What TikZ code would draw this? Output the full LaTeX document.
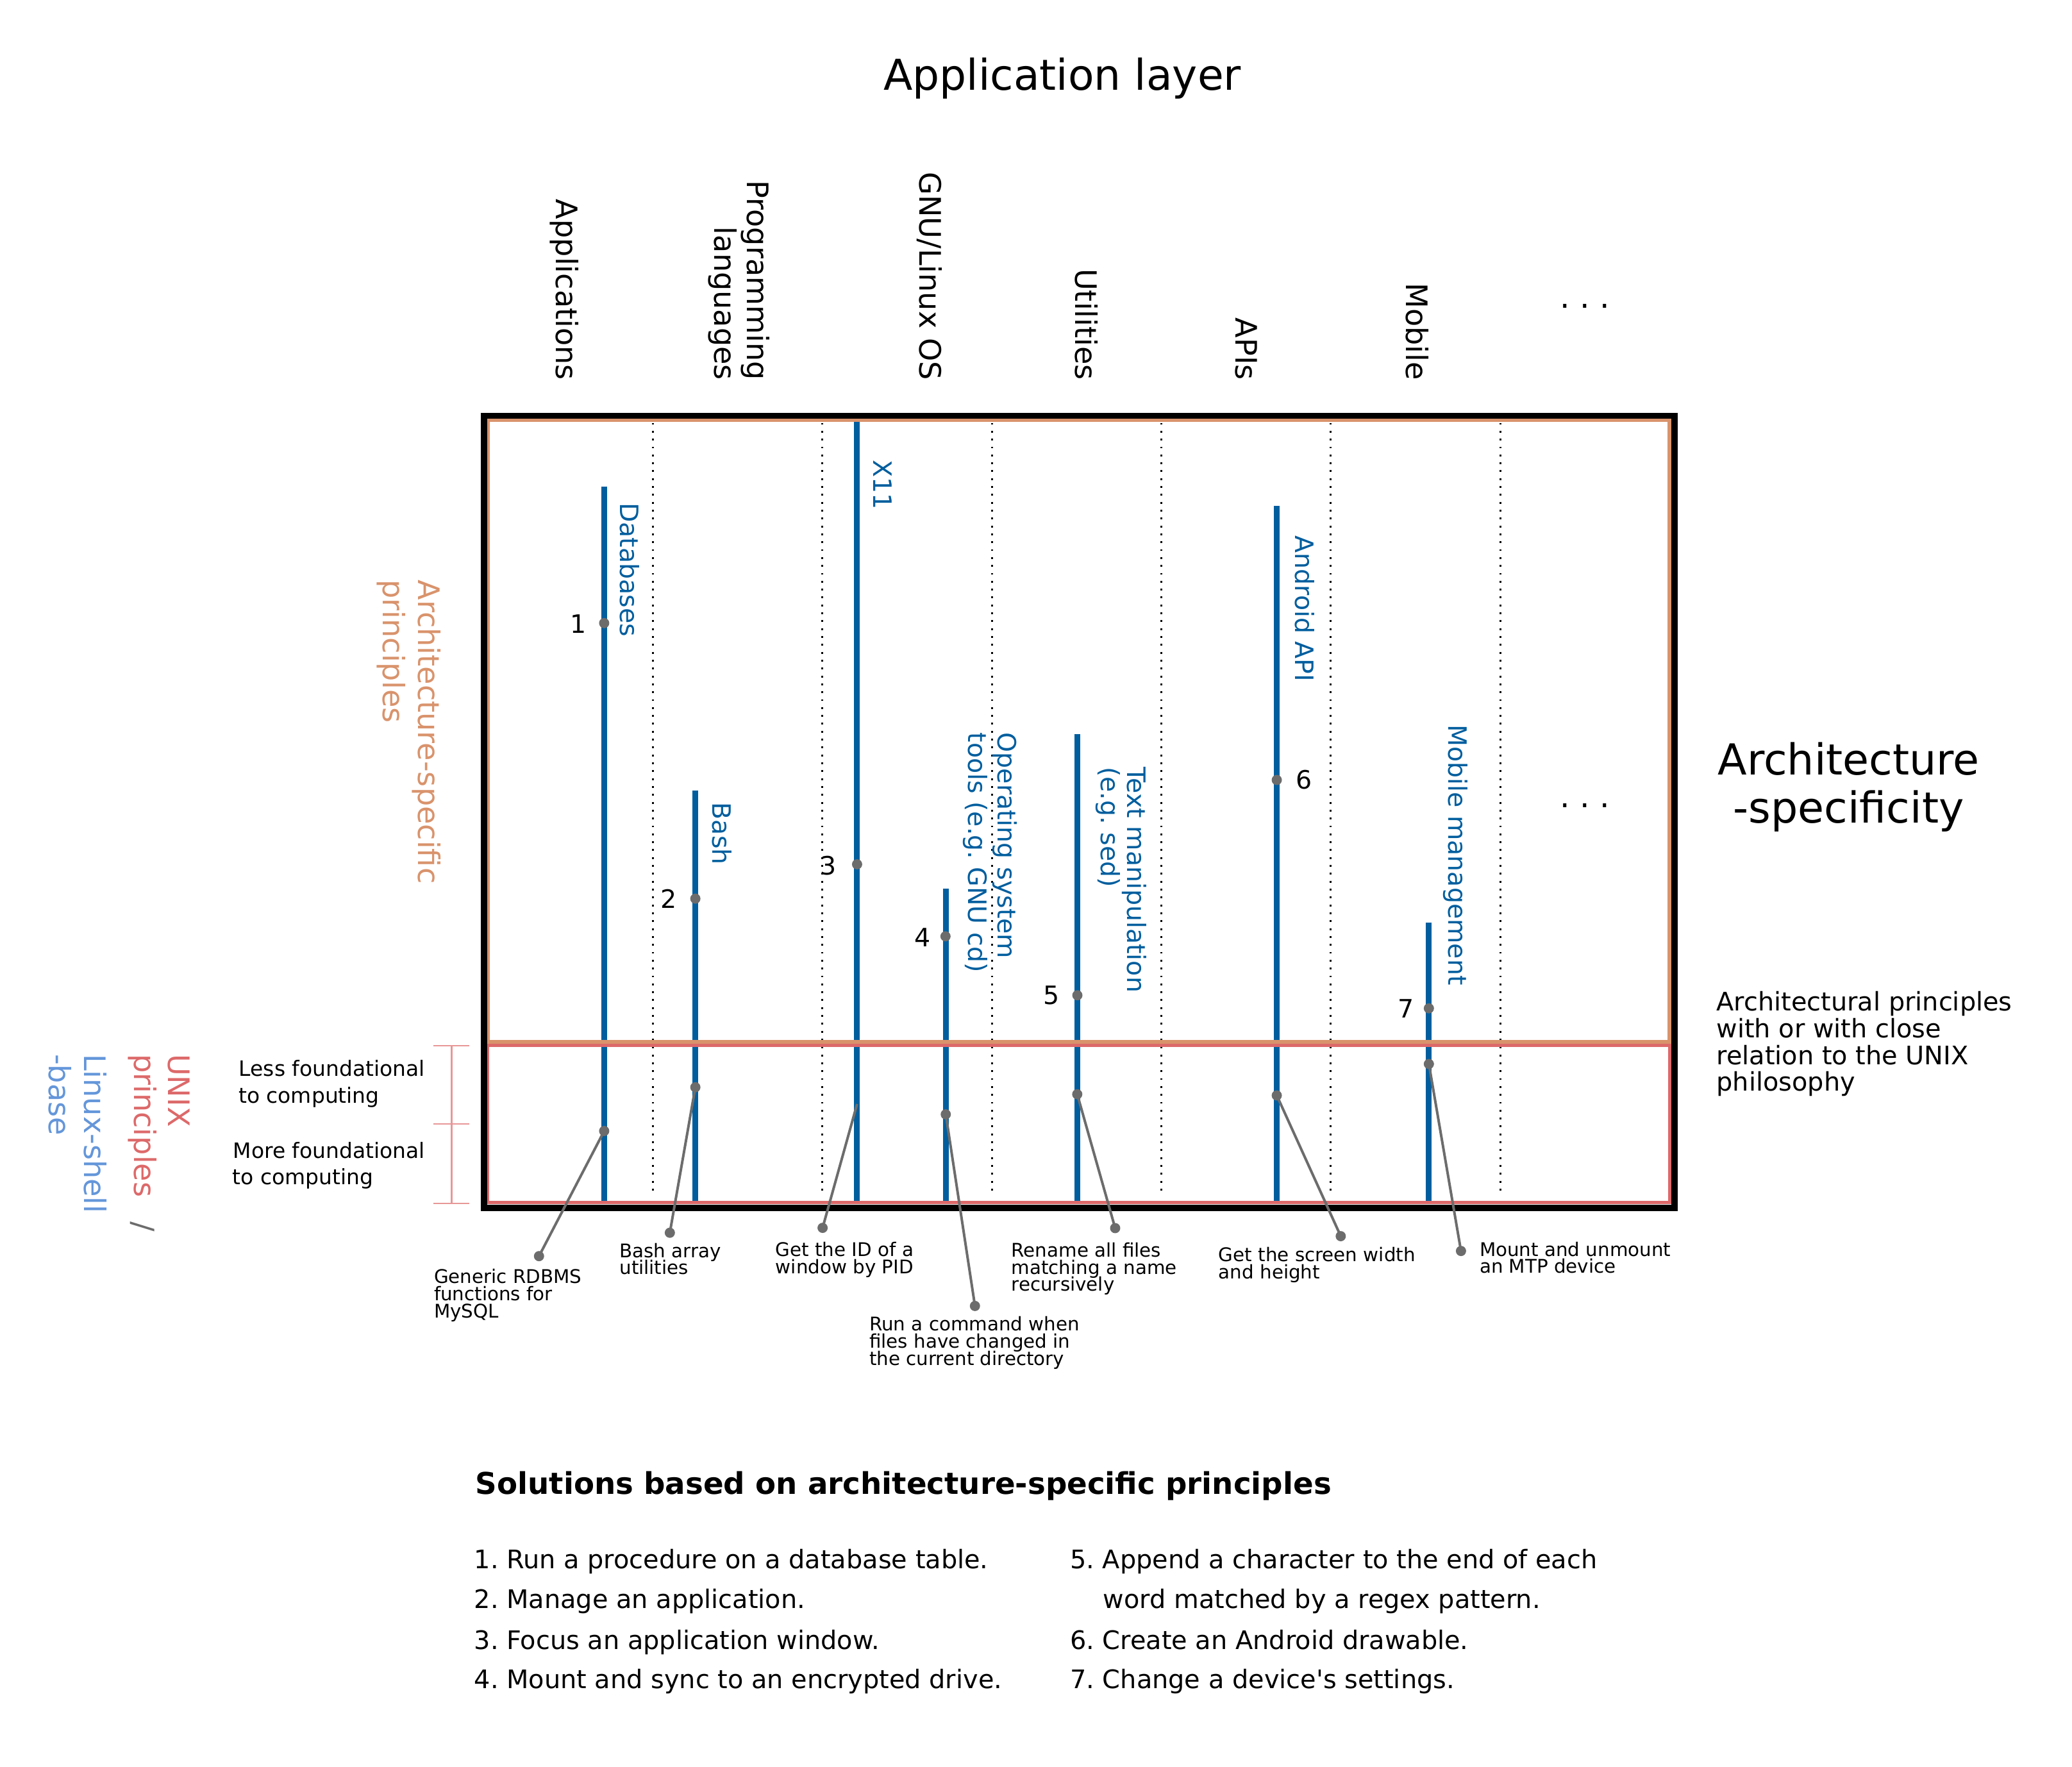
\documentclass[tikz,border=0pt]{standalone}
\usepackage{fontspec}
\setmainfont{DejaVu Sans}[Ligatures=TeXOff]
\definecolor{barblue}{RGB}{0,94,158}
\definecolor{archor}{RGB}{217,147,108}
\definecolor{unixred}{RGB}{221,105,106}
\definecolor{shellblue}{RGB}{100,150,218}
\definecolor{pingray}{RGB}{108,108,108}
\definecolor{brpink}{RGB}{232,150,150}
\frenchspacing
\begin{document}
\begin{tikzpicture}[x=0.02cm,y=-0.02cm,
  barline/.style={draw=barblue,line width=2.5pt},
  sepline/.style={line width=0.8pt,dash pattern=on 0.8pt off 2.6pt},
  pinline/.style={draw=pingray,line width=1.1pt},
  pindot/.style={circle,fill=pingray,inner sep=0pt,minimum size=4.4pt},
  hdr/.style={font=\fontsize{12.75}{14}\selectfont,rotate=-90,anchor=base east,inner sep=0pt},
  blab/.style={font=\fontsize{10.9}{12}\selectfont,text=barblue,rotate=-90,anchor=base west,inner sep=0pt},
  side/.style={font=\fontsize{12.75}{14}\selectfont,rotate=-90,anchor=base west,inner sep=0pt},
  num/.style={font=\fontsize{10.9}{12}\selectfont,inner sep=0pt},
  small/.style={font=\fontsize{8.1}{9}\selectfont,anchor=base west,inner sep=0pt},
  found/.style={font=\fontsize{9.1}{10}\selectfont,anchor=base west,inner sep=0pt},
  para/.style={font=\fontsize{11}{12}\selectfont,anchor=base west,inner sep=0pt}
]
\useasboundingbox[fill=white] (0,0) rectangle (1568,1337);

% title
\node[font=\fontsize{18.3}{20}\selectfont,anchor=base,inner sep=0pt] (title) at (804,68.2) {Application layer};

% column headers
\node[hdr] (hApp) at (421,288) {Applications};
\node[hdr] (hProg1) at (565.3,288) {Programming};
\node[hdr] (hProg2) at (540.5,288) {languages};
\node[hdr] (hGnu) at (696,288) {GNU/Linux OS};
\node[hdr] (hUtil) at (814,288) {Utilities};
\node[hdr] (hApi) at (935.3,288) {APIs};
\node[hdr] (hMob) at (1064,288) {Mobile};
\node[font=\fontsize{13.5}{14}\selectfont,anchor=base,inner sep=0pt] (hDots) at (1199.5,233) {.\ .\ .};

% dotted column separators
\foreach \x in {494,622.3,750.7,878.9,1007.1,1135.6}
  \draw[sepline] (\x,320) -- (\x,905);

% bars
\draw[barline] (457.2,368) -- (457.2,909);
\draw[barline] (526.2,598) -- (526.2,909);
\draw[barline] (648.6,319) -- (648.6,909);
\draw[barline] (716,672.5) -- (716,909);
\draw[barline] (815.5,555.5) -- (815.5,909);
\draw[barline] (966.2,383) -- (966.2,909);
\draw[barline] (1081.3,698) -- (1081.3,909);

% frames
\draw[archor,line width=1.7pt] (369,317.5) rectangle (1263.5,788.5);
\draw[unixred,line width=1.45pt] (369,791.2) rectangle (1263.5,910);
\draw[line width=2.73pt] (366.3,314.6) rectangle (1267.2,914);

% bracket
\draw[brpink,line width=0.6pt] (341.8,791.3) -- (341.8,910.5);
\draw[brpink,line width=0.6pt] (328,791.3) -- (355,791.3);
\draw[brpink,line width=0.6pt] (328,850.6) -- (355,850.6);
\draw[brpink,line width=0.6pt] (328,910.5) -- (355,910.5);

% blue labels
\node[blab] (lDb) at (469.5,380.1) {Databases};
\node[blab] (lBash) at (539,607) {Bash};
\node[blab] (lX11) at (661.2,347.7) {X11};
\node[blab] (lOs1) at (755,554) {Operating system};
\node[blab] (lOs2) at (733,554) {tools (e.g. GNU cd)};
\node[blab] (lTx1) at (853,580) {Text manipulation};
\node[blab] (lTx2) at (833,580) {(e.g. sed)};
\node[blab] (lAnd) at (980,405) {Android API};
\node[blab] (lMob) at (1096,548) {Mobile management};

% numbers
\node[num] (n1) at (437.6,472) {1};
\node[num] (n2) at (506,680) {2};
\node[num] (n3) at (627,655) {3};
\node[num] (n4) at (698,709.5) {4};
\node[num] (n5) at (795.8,753) {5};
\node[num] (n6) at (987,590) {6};
\node[num] (n7) at (1064,763) {7};

% connector coordinates
\coordinate (a1) at (457.2,855.8); \coordinate (b1) at (407.9,950.5);
\coordinate (a2) at (526.2,822.7); \coordinate (b2) at (506.9,932.8);
\coordinate (a3) at (648.6,835.4); \coordinate (b3) at (622.5,929.1);
\coordinate (a4) at (715.7,843.2); \coordinate (b4) at (737.8,988.2);
\coordinate (a5) at (815.2,828);   \coordinate (b5) at (843.9,929.3);
\coordinate (a6) at (966.2,828.9); \coordinate (b6) at (1014.6,935.4);
\coordinate (a7) at (1081.3,805.1);\coordinate (b7) at (1105.6,946.6);
\foreach \i in {1,...,7} \draw[pinline] (a\i) -- (b\i);

% dots
\node[pindot] (u1) at (457.2,471.5) {};
\node[pindot] (u2) at (526.2,680) {};
\node[pindot] (u3) at (648.6,654) {};
\node[pindot] (u4) at (715.5,708.5) {};
\node[pindot] (u5) at (815.3,753.1) {};
\node[pindot] (u6) at (966.2,590.2) {};
\node[pindot] (u7) at (1081.3,763) {};
\foreach \i in {1,2,4,5,6,7} \node[pindot] (la\i) at (a\i) {};
\foreach \i in {1,...,7} \node[pindot] (lb\i) at (b\i) {};

% connector labels
\node[small] (c1a) at (328.1,970.9) {Generic RDBMS};
\node[small] (c1b) at (328.1,984.2) {functions for};
\node[small] (c1c) at (328.1,997.4) {MySQL};
\node[small] (c2a) at (468.5,951.4) {Bash array};
\node[small] (c2b) at (468.5,964.4) {utilities};
\node[small] (c3a) at (586.6,950.5) {Get the ID of a};
\node[small] (c3b) at (586.6,963.5) {window by PID};
\node[small] (c4a) at (657.6,1007.1) {Run a command when};
\node[small] (c4b) at (657.6,1020.1) {files have changed in};
\node[small] (c4c) at (657.6,1033.1) {the current directory};
\node[small] (c5a) at (765.1,951) {Rename all files};
\node[small] (c5b) at (765.1,964) {matching a name};
\node[small] (c5c) at (765.1,977) {recursively};
\node[small] (c6a) at (921.9,954.5) {Get the screen width};
\node[small] (c6b) at (921.9,967.7) {and height};
\node[small] (c7a) at (1119.4,950.5) {Mount and unmount};
\node[small] (c7b) at (1119.4,963.4) {an MTP device};

% left labels
\node[side,text=archor] (arch1) at (316.5,438.5) {Architecture-specific};
\node[side,text=archor] (arch2) at (290,438.5) {principles};
\node[side,text=unixred] (unix1) at (127.5,797.3) {UNIX};
\node[side,text=unixred] (unix2) at (101.6,797.3) {principles};
\node[font=\fontsize{12.75}{14}\selectfont,text=pingray,rotate=-90,inner sep=0pt] (slash) at (107.7,928) {/};
\node[side,text=shellblue] (shell1) at (63.9,797.3) {Linux-shell};
\node[side,text=shellblue] (shell2) at (37.1,797.3) {-base};

\node[found] (less1) at (180.5,814.3) {Less foundational};
\node[found] (less2) at (180.2,834.5) {to computing};
\node[found] (more1) at (176.1,876.6) {More foundational};
\node[found] (more2) at (175.7,896.3) {to computing};

% right side
\node[font=\fontsize{18.4}{20}\selectfont,anchor=base,inner sep=0pt] (as1) at (1399,586.3) {Architecture};
\node[font=\fontsize{18.4}{20}\selectfont,anchor=base,inner sep=0pt] (as2) at (1399,622.5) {-specificity};
\node[font=\fontsize{13.5}{14}\selectfont,anchor=base,inner sep=0pt] (mDots) at (1199.5,611) {.\ .\ .};
\node[para] (p1) at (1298.7,764.7) {Architectural principles};
\node[para] (p2) at (1298.7,785.2) {with or with close};
\node[para] (p3) at (1298.7,805.4) {relation to the UNIX};
\node[para] (p4) at (1298.7,825.7) {philosophy};

% solutions list
\node[font=\fontsize{12.9}{14}\selectfont\bfseries,anchor=base west,inner sep=0pt] (sol) at (359.5,1130.5) {Solutions based on architecture-specific principles};
\node[para] (s1) at (358.5,1187.1) {1. Run a procedure on a database table.};
\node[para] (s2) at (358.5,1217) {2. Manage an application.};
\node[para] (s3) at (358.5,1247.8) {3. Focus an application window.};
\node[para] (s4) at (358.5,1277.7) {4. Mount and sync to an encrypted drive.};
\node[para] (s5) at (809.5,1187.1) {5. Append a character to the end of each};
\node[para] (s5b) at (834.5,1217) {word matched by a regex pattern.};
\node[para] (s6) at (809.5,1247.8) {6. Create an Android drawable.};
\node[para] (s7) at (809.5,1277.7) {7. Change a device's settings.};
\end{tikzpicture}
\end{document}
